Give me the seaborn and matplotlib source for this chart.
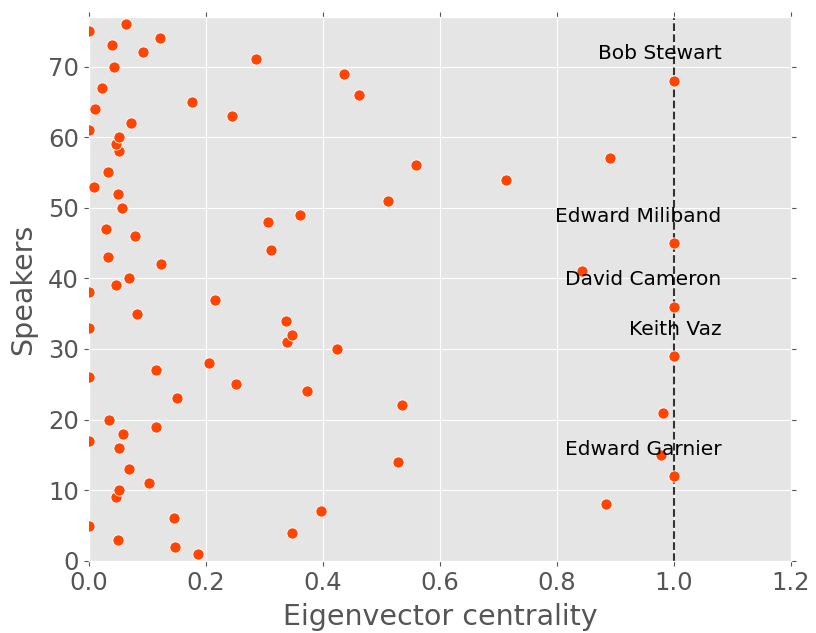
import pandas as pd
import seaborn as sns
import matplotlib.pyplot as plt

speakers = [1, 2, 3, 4, 5, 6, 7, 8, 9, 10, 11, 12, 13, 14, 15, 16, 17, 18, 19, 20,
            21, 22, 23, 24, 25, 26, 27, 28, 29, 30, 31, 32, 33, 34, 35, 36, 37, 38,
            39, 40, 41, 42, 43, 44, 45, 46, 47, 48, 49, 50, 51, 52, 53, 54, 55, 56,
            57, 58, 59, 60, 61, 62, 63, 64, 65, 66, 67, 68, 69, 70, 71, 72, 73, 74,
            75, 76]
centrality = [0.186, 0.147, 0.050, 0.347, 0.0, 0.145, 0.397, 0.884, 0.047, 0.051,
              0.103, 1.0, 0.068, 0.529, 0.978, 0.052, 0.0, 0.059, 0.115, 0.035,
              0.981, 0.535, 0.150, 0.373, 0.251, 0.0, 0.115, 0.206, 1.0, 0.424,
              0.339, 0.348, 0.0, 0.337, 0.082, 1.0, 0.215, 0.0, 0.047, 0.068,
              0.843, 0.123, 0.032, 0.312, 1.0, 0.079, 0.029, 0.306, 0.361, 0.056,
              0.511, 0.049, 0.009, 0.713, 0.032, 0.559, 0.891, 0.052, 0.046, 0.051,
              0.0, 0.072, 0.244, 0.011, 0.177, 0.462, 0.023, 1.0, 0.436, 0.042,
              0.285, 0.092, 0.040, 0.121, 0.0, 0.064]

# speakers with the top centrality, labelled on the chart
top_speakers = [68, 45, 36, 29, 12]
top_names = ['Bob Stewart', 'Edward Miliband', 'David Cameron', 'Keith Vaz', 'Edward Garnier']

df = pd.DataFrame({'centrality': centrality, 'speaker': speakers})

plt.style.use('ggplot')
fig, ax = plt.subplots(figsize=(8.16, 6.33), dpi=100)
fig.subplots_adjust(left=0.109, right=0.969, bottom=0.114, top=0.973)

sns.scatterplot(data=df, x='centrality', y='speaker', ax=ax, color='#FF4500',
                s=65, edgecolor='white', linewidth=0.6, zorder=3)
ax.axvline(1.0, color='#333333', linestyle='--', linewidth=1.5, zorder=2)

for spk, name in zip(top_speakers, top_names):
    x = df.loc[df.speaker == spk, 'centrality'].iloc[0]
    ax.text(x + 0.082, spk + 3.8, name, ha='right', va='center', fontsize=14.5, color='black')

ax.set_xlim(0, 1.2)
ax.set_ylim(0, 77)
ax.set_xticks([0.0, 0.2, 0.4, 0.6, 0.8, 1.0, 1.2])
ax.set_yticks([0, 10, 20, 30, 40, 50, 60, 70])
ax.tick_params(axis='both', which='both', direction='out', top=True, right=True,
               labelsize=17.5, colors='#555555', length=3.5)
ax.set_xlabel('Eigenvector centrality', fontsize=20.5, color='#555555', labelpad=6)
ax.set_ylabel('Speakers', fontsize=20.5, color='#555555', labelpad=8)

plt.savefig('out.png', dpi=100)
